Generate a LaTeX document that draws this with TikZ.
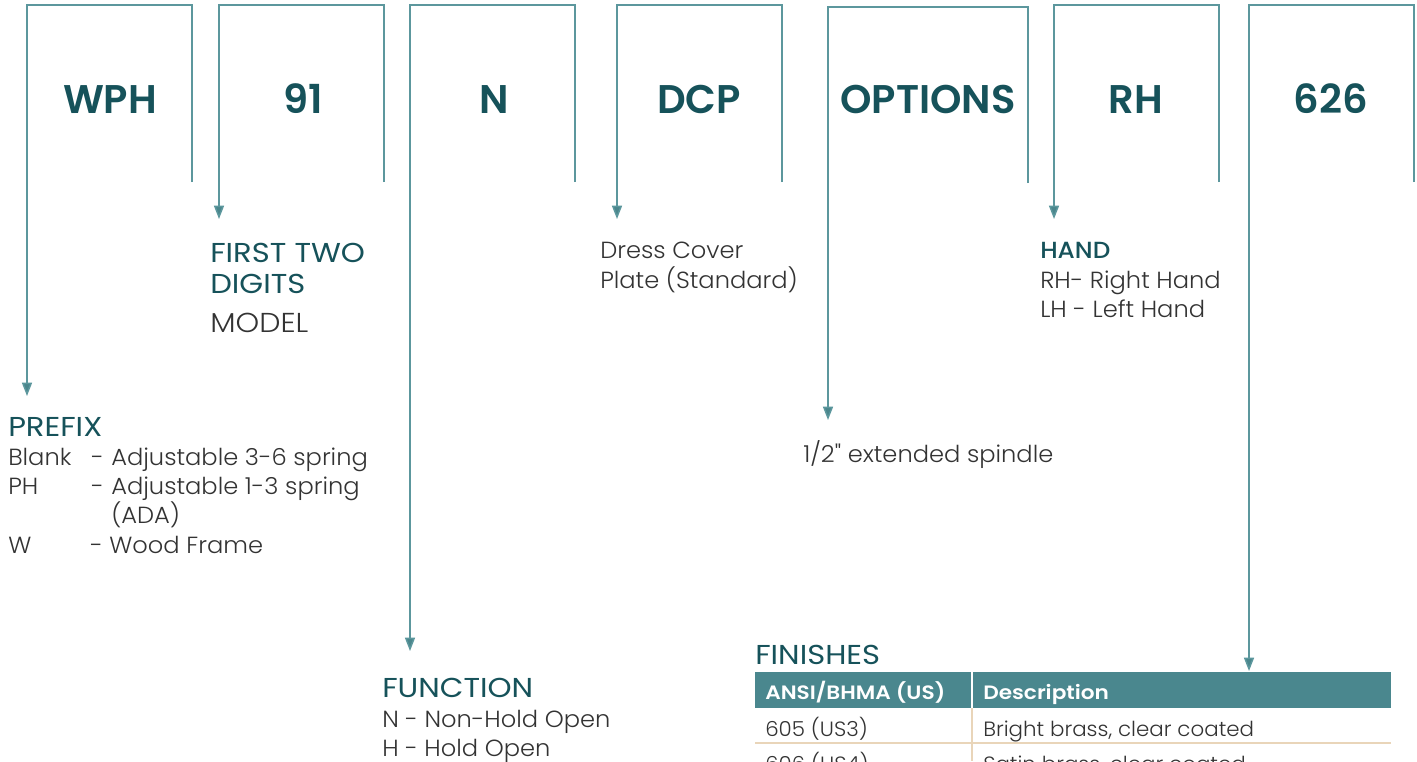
\documentclass[tikz,border=0pt]{standalone}
\usepackage{fontspec}
\setmainfont{Poppins}[UprightFont=* Light, BoldFont=* SemiBold, Ligatures=TeXOff]
\newfontfamily\bodyfont{Poppins Light}[FakeStretch=1.035, Ligatures=TeXOff]
\newfontfamily\headfont{Poppins}[FakeStretch=1.12, Ligatures=TeXOff]
\newfontfamily\handfont{Poppins Medium}[FakeStretch=1.06, Ligatures=TeXOff]
\newfontfamily\modelfont{Poppins Light}[FakeStretch=1.1, Ligatures=TeXOff]
\newfontfamily\thfont{Poppins SemiBold}[FakeStretch=1.12, Ligatures=TeXOff]
\usetikzlibrary{arrows.meta}
\definecolor{lnc}{HTML}{5C979D}
\definecolor{tipc}{HTML}{4A868C}
\definecolor{ttl}{HTML}{16525A}
\definecolor{txc}{HTML}{333333}
\definecolor{hdr}{HTML}{4A878E}
\definecolor{beige}{HTML}{E9D5B9}
\tikzset{
  boxline/.style={draw=lnc, line width=1.5pt*0.75, -{Triangle[length=10pt,width=7.5pt,fill=tipc]}, line join=miter},
  big/.style={font=\fontsize{30}{36}\selectfont\bfseries, text=ttl, inner sep=0, anchor=base},
  head/.style={font=\fontsize{20.5}{24}\headfont, text=ttl, inner sep=0, anchor=base west},
  body/.style={font=\fontsize{17.5}{22}\bodyfont, text=txc, inner sep=0, anchor=base west},
  thd/.style={font=\fontsize{14.5}{18}\thfont, text=white, inner sep=0, anchor=base west},
  tbody/.style={font=\fontsize{15.5}{18}\bodyfont, text=txc, inner sep=0, anchor=base west},
}
\begin{document}
\begin{tikzpicture}[x=0.75pt,y=-0.75pt]
\useasboundingbox (0,0) rectangle (1417,761);
\clip (0,0) rectangle (1417,761);
\fill[white] (0,0) rectangle (1417,761);

% box corners
\coordinate (r1) at (192,182); \coordinate (l1) at (27,5); \coordinate (t1) at (27,396);
\coordinate (r2) at (384,182); \coordinate (l2) at (219,5); \coordinate (t2) at (219,219);
\coordinate (r3) at (575,182); \coordinate (l3) at (410,5); \coordinate (t3) at (410,651);
\coordinate (r4) at (782,182); \coordinate (l4) at (617,5); \coordinate (t4) at (617,219);
\coordinate (r5) at (1028,183); \coordinate (l5) at (828,7); \coordinate (t5) at (828,420);
\coordinate (r6) at (1219,182); \coordinate (l6) at (1054,5); \coordinate (t6) at (1054,219);
\coordinate (r7) at (1414,182); \coordinate (l7) at (1249,5); \coordinate (t7) at (1249,671);

\foreach \i in {1,...,7}{
  \draw[boxline] (r\i) |- (l\i) -- (t\i);
}

% big labels
\node[big] (wph) at (110,113) {WPH};
\node[big] (n91) at (303,113) {91};
\node[big] (nn) at (494,113) {N};
\node[big] (dcp) at (699,113) {DCP};
\node[big] (opt) at (928,113) {OPTIONS};
\node[big] (rh) at (1136,113) {RH};
\node[big] (f626) at (1331,113) {626};

% first two digits
\node[head] (ftd1) at (210,262) {FIRST TWO};
\node[head] (ftd2) at (210,293) {DIGITS};
\node[head, font=\fontsize{20.5}{24}\modelfont, text=txc] (model) at (210,332) {MODEL};

% DCP
\node[body] (dc1) at (600,258) {Dress Cover};
\node[body] (dc2) at (600,288) {Plate (Standard)};

% hand
\node[body, font=\fontsize{17.5}{22}\handfont, text=ttl] (hand) at (1040,258) {HAND};
\node[body] (hd1) at (1040,288) {RH- Right Hand};
\node[body] (hd2) at (1040,317) {LH - Left Hand};

% options
\node[body] (spn) at (803,462) {1/2" extended spindle};

% prefix
\node[head] (prefix) at (8,436) {PREFIX};
\node[body] (pb) at (8,465) {Blank};
\node[body] (pbd) at (91,465) {-};
\node[body] (pbt) at (111,465) {Adjustable 3-6 spring};
\node[body] (pp) at (8,494) {PH};
\node[body] (ppd) at (91,494) {-};
\node[body] (ppt) at (111,494) {Adjustable 1-3 spring};
\node[body] (ppt2) at (111,523) {(ADA)};
\node[body] (pw) at (8,553) {W};
\node[body] (pwt) at (90,553) {- Wood Frame};

% function
\node[head] (func) at (382,697) {FUNCTION};
\node[body] (fn1) at (382,727) {N - Non-Hold Open};
\node[body] (fn2) at (382,756) {H - Hold Open};

% finishes
\node[head] (fin) at (755,664) {FINISHES};
\fill[hdr] (755,672) rectangle (1391,708);
\draw[white, line width=1.5pt] (972,672) -- (972,708);
\draw[beige, line width=1.3pt] (972,708) -- (972,761);
\draw[beige, line width=1.3pt] (755,743) -- (1391,743);
\node[thd] (h1) at (765,699) {ANSI/BHMA (US)};
\node[thd] (h2) at (983,699) {Description};
\node[tbody] (c11) at (765,736) {605 (US3)};
\node[tbody] (c12) at (983,736) {Bright brass, clear coated};
\node[tbody] (c21) at (765,771) {606 (US4)};
\node[tbody] (c22) at (983,771) {Satin brass, clear coated};
\end{tikzpicture}
\end{document}
